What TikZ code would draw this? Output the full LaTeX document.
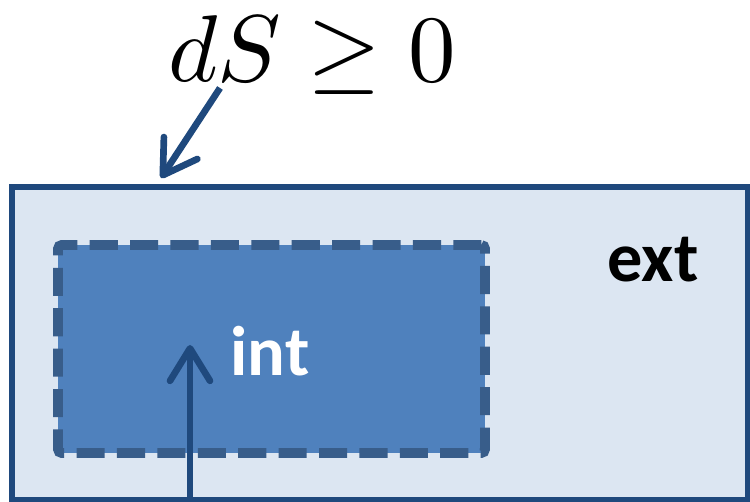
\documentclass[tikz,border=0pt]{standalone}
\usepackage{amssymb}
\usepackage{fontspec}
\newfontfamily\labelfont{Carlito}
\usepackage{tikz}
\usetikzlibrary{arrows.meta,positioning}
\definecolor{borderblue}{RGB}{31,73,125}
\definecolor{dashblue}{RGB}{56,93,138}
\definecolor{innerblue}{RGB}{79,129,189}
\definecolor{outerblue}{RGB}{220,230,242}
\tikzset{
    % Regions
    extbox/.style={
        rectangle,
        draw=borderblue,
        line width=3.2pt,
        fill=outerblue,
        minimum width=14.72cm,
        minimum height=6.26cm
    },
    intbox/.style={
        rectangle,
        draw=dashblue,
        line width=5.5pt,
        fill=innerblue,
        dash pattern=on 16pt off 7pt,
        rounded corners=2pt,
        minimum width=8.54cm,
        minimum height=4.16cm
    },
    % Labels
    regionlabel/.style={
        font=\labelfont\fontsize{40}{44}\selectfont\bfseries
    },
    % Arrows
    arrow/.style={
        -{Straight Barb[length=6.5mm,width=8mm,round]},
        line width=3.8pt,
        draw=borderblue
    }
}
\begin{document}
\begin{tikzpicture}[x=0.02cm,y=-0.02cm]
    \useasboundingbox (0,0) rectangle (750,502);

    % Regions
    \node[extbox] (ext_box) at (380,343.5) {};
    \node[intbox] (int_box) at (271.5,349) {};

    % Labels
    \node[regionlabel, text=black] (ext_label) at (653,260) {ext};
    \node[regionlabel, text=white] (int_label) at (270,351) {int};
    \node[scale=5.4, inner sep=0pt] (entropy) at (312,55) {$dS \geq 0$};

    % Arrow ends
    \coordinate (from_entropy) at (220,88);
    \coordinate (boundary) at (161,178);
    \coordinate (bottom) at (190,505);
    \coordinate (inside) at (190,345);

    % Arrows
    \draw[arrow] (from_entropy) -- (boundary);
    \draw[arrow] (bottom) -- (inside);

\end{tikzpicture}
\end{document}
